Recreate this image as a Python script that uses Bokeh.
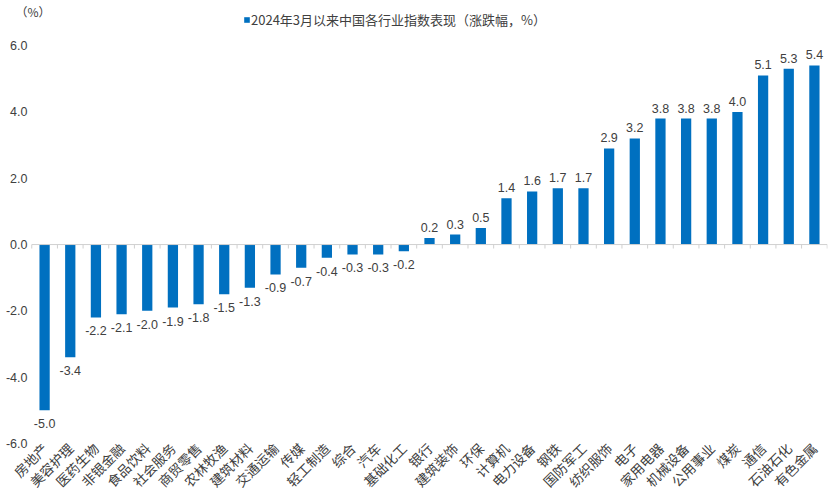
from bokeh.plotting import figure
from bokeh.models import (Range1d, FixedTicker, PrintfTickFormatter, ColumnDataSource,
                          Legend, LegendItem, Label)
from bokeh.core.properties import value
from bokeh.embed import file_html
from bokeh.resources import INLINE
import math

categories = ["房地产", "美容护理", "医药生物", "非银金融", "食品饮料", "社会服务", "商贸零售",
              "农林牧渔", "建筑材料", "交通运输", "传媒", "轻工制造", "综合", "汽车", "基础化工",
              "银行", "建筑装饰", "环保", "计算机", "电力设备", "钢铁", "国防军工", "纺织服饰",
              "电子", "家用电器", "机械设备", "公用事业", "煤炭", "通信", "石油石化", "有色金属"]
values = [-5.0, -3.4, -2.2, -2.1, -2.0, -1.9, -1.8, -1.5, -1.3, -0.9, -0.7, -0.4, -0.3, -0.3, -0.2,
          0.2, 0.3, 0.5, 1.4, 1.6, 1.7, 1.7, 2.9, 3.2, 3.8, 3.8, 3.8, 4.0, 5.1, 5.3, 5.4]
y_ticks = [-6, -4, -2, 0, 2, 4, 6]
series_name = "2024年3月以来中国各行业指数表现（涨跌幅，%）"
unit_label = "（%）"

BLUE = "#0070C0"
TXT = "#404040"
AXIS_GREY = "#D0D0D0"
NUM_FONT = "Liberation Sans"
CJK_FONT = "Noto Sans CJK SC"

n = len(categories)
xs = list(range(n))
X_START = -1.095
X_END = n - 0.49
Y_END = 7.36

p = figure(width=833, height=500, output_backend="svg", toolbar_location=None,
           x_range=Range1d(X_START, X_END), y_range=Range1d(-6.0, Y_END),
           min_border_top=0, min_border_right=6, min_border_left=16, min_border_bottom=0)
p.outline_line_color = None
p.xgrid.grid_line_color = None
p.ygrid.grid_line_color = None
p.background_fill_color = "white"
p.border_fill_color = "white"

bars = p.vbar(x=xs, top=values, bottom=0, width=0.4, fill_color=BLUE, line_color=None)

# zero line with category-boundary ticks
bounds = [i - 0.5 for i in range(n + 1)]
p.segment(x0=[bounds[0]], x1=[bounds[-1]], y0=[0], y1=[0], line_color=AXIS_GREY, line_width=1)
p.segment(x0=bounds, x1=bounds, y0=[0] * len(bounds), y1=[-0.12] * len(bounds),
          line_color=AXIS_GREY, line_width=1)

pos_src = ColumnDataSource(dict(x=[x for x, v in zip(xs, values) if v >= 0],
                                y=[v for v in values if v >= 0],
                                t=[f"{v:.1f}" for v in values if v >= 0]))
neg_src = ColumnDataSource(dict(x=[x for x, v in zip(xs, values) if v < 0],
                                y=[v for v in values if v < 0],
                                t=[f"{v:.1f}" for v in values if v < 0]))
p.text(x="x", y="y", text="t", source=pos_src, text_align="center", text_baseline="bottom",
       y_offset=-6, text_font=value(NUM_FONT), text_font_size="12.5px", text_color=TXT)
p.text(x="x", y="y", text="t", source=neg_src, text_align="center", text_baseline="top",
       y_offset=9, text_font=value(NUM_FONT), text_font_size="12.5px", text_color=TXT)

# axes
p.xaxis.ticker = FixedTicker(ticks=xs)
p.xaxis.major_label_overrides = {i: c for i, c in enumerate(categories)}
p.xaxis.major_label_orientation = math.pi / 4
p.xaxis.axis_line_color = None
p.xaxis.major_tick_line_color = None
p.xaxis.minor_tick_line_color = None
p.xaxis.major_tick_out = 0
p.xaxis.major_tick_in = 0
p.xaxis.minor_tick_out = 0
p.xaxis.major_label_text_font = CJK_FONT
p.xaxis.major_label_text_font_size = "13.5px"
p.xaxis.major_label_text_color = TXT
p.xaxis.major_label_standoff = 2

p.yaxis.ticker = FixedTicker(ticks=y_ticks)
p.yaxis.formatter = PrintfTickFormatter(format="%.1f")
p.yaxis.axis_line_color = None
p.yaxis.major_tick_line_color = None
p.yaxis.minor_tick_line_color = None
p.yaxis.major_tick_out = 0
p.yaxis.major_tick_in = 0
p.yaxis.minor_tick_out = 0
p.yaxis.major_label_text_font = NUM_FONT
p.yaxis.major_label_text_font_size = "12.5px"
p.yaxis.major_label_text_color = TXT
p.yaxis.major_label_standoff = -11

legend = Legend(items=[LegendItem(label=series_name, renderers=[bars])],
                location=(227, 414), orientation="horizontal",
                label_text_font=CJK_FONT, label_text_font_size="13px", label_text_color=TXT,
                glyph_width=7, glyph_height=7, padding=0, margin=0, spacing=0,
                label_standoff=1, border_line_color=None, background_fill_alpha=0)
p.add_layout(legend)

p.add_layout(Label(x=X_START, y=Y_END, x_offset=-1, y_offset=-2, text=unit_label,
                   text_baseline="top", text_align="left",
                   text_font=CJK_FONT, text_font_size="12px", text_color=TXT))

open("out.html", "w").write(file_html(p, INLINE))
